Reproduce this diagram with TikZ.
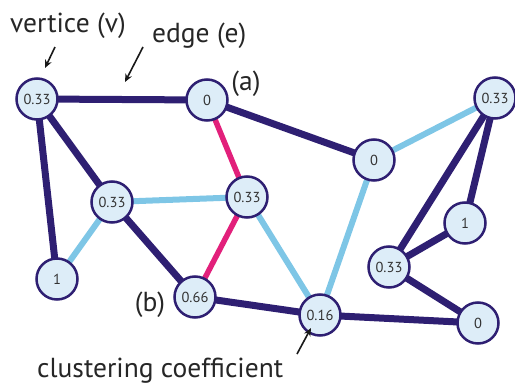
\documentclass[tikz,border=0pt]{standalone}
\usepackage{fontspec}
\setmainfont{PT Sans}
\usetikzlibrary{arrows.meta}
\pgfdeclarelayer{bg}
\pgfsetlayers{bg,main}
\definecolor{dk}{HTML}{2E1F72}
\definecolor{pk}{HTML}{E2207B}
\definecolor{lb}{HTML}{7EC6E6}
\definecolor{nf}{HTML}{DDEDF8}
\begin{document}
\begin{tikzpicture}[x=1pt,y=-1pt,
  vert/.style={circle,draw=dk,fill=nf,line width=2.5pt,minimum size=41pt,inner sep=0pt,
    font=\fontsize{14.5}{14.5}\selectfont,text=black!80},
  de/.style={draw=dk,line width=7pt},
  pe/.style={draw=pk,line width=5.5pt},
  be/.style={draw=lb,line width=6pt},
  lab/.style={font=\fontsize{27.5}{27.5}\selectfont,text=black!85,inner sep=0pt},
  ar/.style={-{Stealth[length=8pt,width=7pt]},line width=1.6pt,black!90}]
\useasboundingbox (0,0) rectangle (515,388);
\node[vert] (A) at (37,99) {0.33};
\node[vert] (B) at (207,100) {0};
\node[vert] (C) at (374,160) {0};
\node[vert] (D) at (495,98) {0.33};
\node[vert] (E) at (465,223) {1};
\node[vert] (F) at (112,202) {0.33};
\node[vert] (G) at (247,197) {0.33};
\node[vert] (H) at (57,279) {1};
\node[vert] (I) at (195,297) {0.66};
\node[vert] (J) at (320,315) {0.16};
\node[vert] (K) at (389,267) {0.33};
\node[vert] (L) at (478,323) {0};
\begin{pgfonlayer}{bg}
\draw[de] (A.center) -- (B.center);
\draw[de] (A.center) -- (H.center);
\draw[de] (A.center) -- (F.center);
\draw[de] (B.center) -- (C.center);
\draw[pe] (B.center) -- (G.center);
\draw[be] (F.center) -- (G.center);
\draw[be] (F.center) -- (H.center);
\draw[de] (F.center) -- (I.center);
\draw[pe] (G.center) -- (I.center);
\draw[be] (G.center) -- (J.center);
\draw[be] (C.center) -- (J.center);
\draw[be] (C.center) -- (D.center);
\draw[de] (D.center) -- (E.center);
\draw[de] (D.center) -- (K.center);
\draw[de] (E.center) -- (K.center);
\draw[de] (K.center) -- (L.center);
\draw[de] (I.center) -- (J.center);
\draw[de] (J.center) -- (L.center);
\end{pgfonlayer}
\node[lab,anchor=base west] (tv) at (10,32) {vertice (v)};
\node[lab,anchor=base west] (te) at (152,42) {edge (e)};
\node[lab] (ta) at (246,84) {(a)};
\node[lab] (tb) at (150,305) {(b)};
\node[lab,anchor=base west] (tc) at (37,377) {clustering coefficient};
\coordinate (v1) at (55,47);
\coordinate (v2) at (45,68);
\coordinate (e1) at (143,47);
\coordinate (e2) at (125,82);
\coordinate (c1) at (297,354);
\coordinate (c2) at (311,328);
\draw[ar] (v1) -- (v2);
\draw[ar] (e1) -- (e2);
\draw[ar] (c1) -- (c2);
\end{tikzpicture}
\end{document}
